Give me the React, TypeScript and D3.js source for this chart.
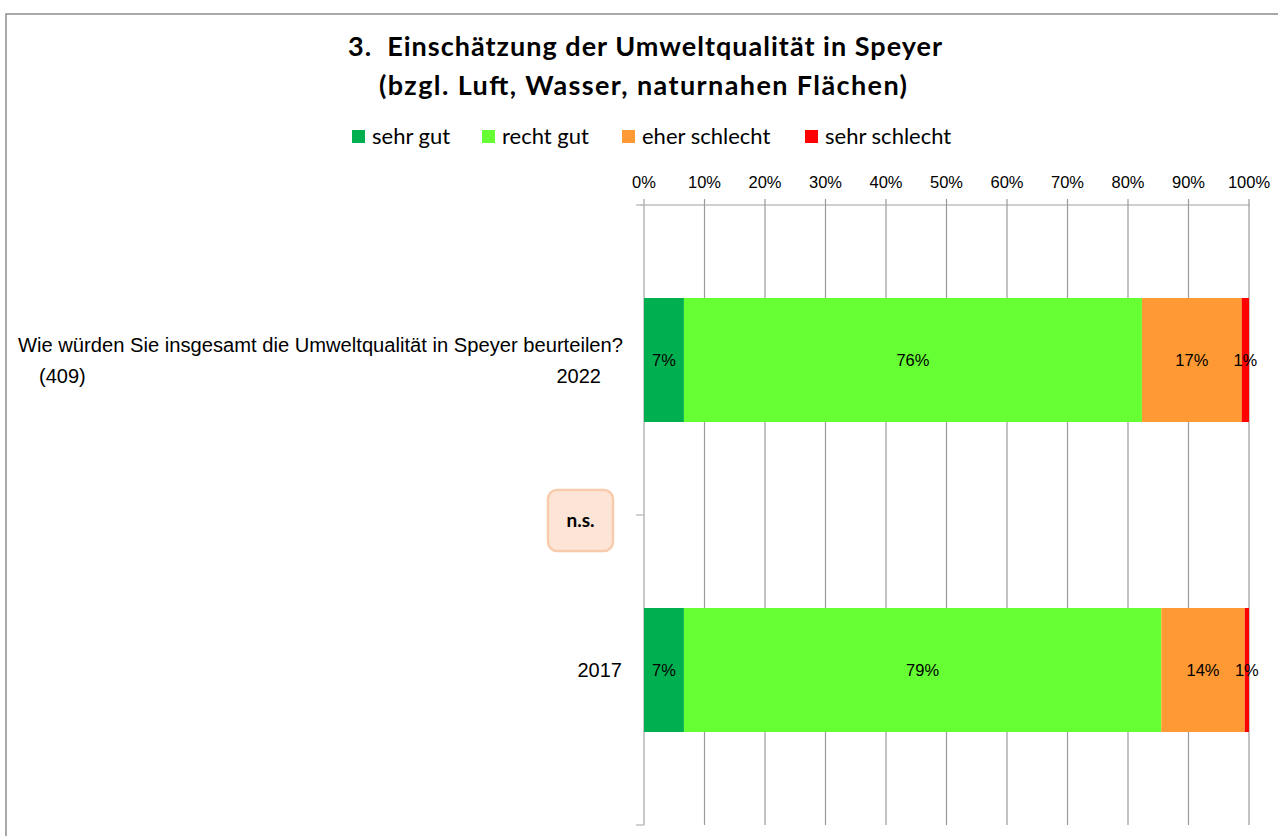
import React from "react";
import * as d3 from "d3";

const categories = ["2022", "2017"];
const seriesNames = ["sehr gut", "recht gut", "eher schlecht", "sehr schlecht"];
const seriesColors = ["#00b050", "#66ff33", "#ff9933", "#ff0000"];
const values2022 = [6.6, 75.7, 16.5, 1.2];
const values2017 = [6.6, 78.9, 13.8, 0.7];
const labels2022 = ["7%", "76%", "17%", "1%"];
const labels2017 = ["7%", "79%", "14%", "1%"];
const ticks = [0, 10, 20, 30, 40, 50, 60, 70, 80, 90, 100];
const titleLines = ["3.  Einschätzung der Umweltqualität in Speyer", "(bzgl. Luft, Wasser, naturnahen Flächen)"];
const question = "Wie würden Sie insgesamt die Umweltqualität in Speyer beurteilen?";
const sampleSize = "(409)";
const sigLabel = "n.s.";

const W = 1278;
const H = 836;

export default function App() {
  const x = d3.scaleLinear().domain([0, 100]).range([644, 1249]);
  const y = d3.scaleBand().domain(categories).range([205, 825]).paddingInner(0.6).paddingOuter(0.3);
  const band = d3.scaleBand().domain(categories).range([205, 825]);
  const rows = [
    { cat: "2022", values: values2022, labels: labels2022 },
    { cat: "2017", values: values2017, labels: labels2017 },
  ];
  const arial = "Liberation Sans, Arial, sans-serif";
  const calibri = "Lato, 'Open Sans', sans-serif";
  const legendX = [352, 482, 622, 805];
  const titleX = [348, 379];
  const titleLen = [594, 528];
  const titleY = [56, 95];

  return (
    <svg width={W} height={H} style={{ position: "absolute", left: 0, top: 0, background: "#fff" }}>
      <rect x={6} y={14} width={1400} height={1000} fill="#fff" stroke="#8c8c8c" strokeWidth={1.5} />
      {titleLines.map((t, i) => (
        <text
          key={i}
          x={titleX[i]}
          y={titleY[i]}
          textLength={titleLen[i]}
          lengthAdjust="spacing"
          fontFamily={calibri}
          fontWeight="bold"
          fontSize={27}
          fill="#000"
          style={{ whiteSpace: "pre" }}
        >
          {t}
        </text>
      ))}
      {seriesNames.map((s, i) => (
        <g key={s}>
          <rect x={legendX[i]} y={130} width={13} height={13} fill={seriesColors[i]} />
          <text x={legendX[i] + 20} y={144} fontFamily={calibri} fontSize={22} fill="#000">
            {s}
          </text>
        </g>
      ))}
      {ticks.map((t) => (
        <g key={t}>
          <line x1={x(t)} x2={x(t)} y1={199} y2={825} stroke={t === 0 ? "#c8c8c8" : "#9a9a9a"} strokeWidth={t === 0 ? 2 : 1.2} />
          <text x={x(t)} y={188} textAnchor="middle" fontFamily={arial} fontSize={16.5} fill="#000">
            {t}%
          </text>
        </g>
      ))}
      <line x1={640} x2={1250} y1={205} y2={205} stroke="#a0a0a0" strokeWidth={1.2} />
      {[205, 515, 825].map((yy) => (
        <line key={yy} x1={636} x2={644} y1={yy} y2={yy} stroke="#c0c0c0" strokeWidth={1.5} />
      ))}
      {rows.map((r) => {
        let acc = 0;
        return (
          <g key={r.cat}>
            {r.values.map((v, i) => {
              const x0 = x(acc);
              acc += v;
              const x1 = x(acc);
              const yy = y(r.cat)!;
              return (
                <g key={i}>
                  <rect x={x0} y={yy} width={x1 - x0} height={y.bandwidth()} fill={seriesColors[i]} />
                  <text x={(x0 + x1) / 2} y={yy + y.bandwidth() / 2 + 6} textAnchor="middle" fontFamily={arial} fontSize={16.5} fill="#000">
                    {r.labels[i]}
                  </text>
                </g>
              );
            })}
          </g>
        );
      })}
      <text x={18} y={352} textLength={605} lengthAdjust="spacingAndGlyphs" fontFamily={arial} fontSize={20} fill="#000">
        {question}
      </text>
      <text x={39} y={383} fontFamily={arial} fontSize={20} fill="#000">
        {sampleSize}
      </text>
      <text x={601} y={383} textAnchor="end" fontFamily={arial} fontSize={20} fill="#000">
        {categories[0]}
      </text>
      <text x={622} y={(band("2017") as number) + band.bandwidth() / 2 + 7} textAnchor="end" fontFamily={arial} fontSize={20} fill="#000">
        {categories[1]}
      </text>
      <rect x={548} y={490} width={65} height={61} rx={9} fill="#fce4d6" stroke="#f8cbad" strokeWidth={2.5} />
      <text x={580.5} y={527} textAnchor="middle" fontFamily={calibri} fontWeight="bold" fontSize={19} fill="#000">
        {sigLabel}
      </text>
    </svg>
  );
}
